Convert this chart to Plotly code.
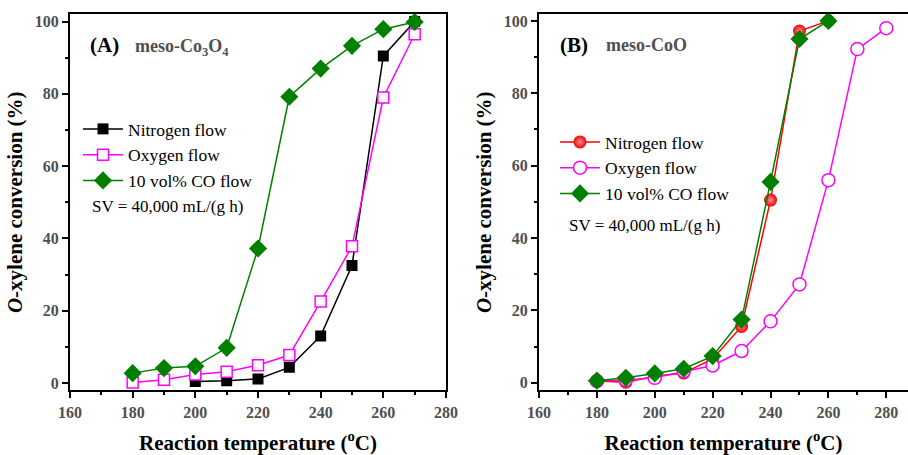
import plotly.graph_objects as go

# ---- data ----
temps_a_n2 = [200, 210, 220, 230, 240, 250, 260, 270]
conv_a_n2 = [0.4, 0.6, 1.1, 4.3, 13.0, 32.5, 90.5, 100.0]
temps_a_o2 = [180, 190, 200, 210, 220, 230, 240, 250, 260, 270]
conv_a_o2 = [0.1, 0.9, 2.3, 3.1, 4.9, 7.7, 22.5, 37.8, 79.0, 96.5]
temps_a_co = [180, 190, 200, 210, 220, 230, 240, 250, 260, 270]
conv_a_co = [2.7, 4.1, 4.6, 9.7, 37.2, 79.2, 87.0, 93.3, 97.9, 99.9]

temps_b_n2 = [180, 190, 200, 210, 220, 230, 240, 250, 260]
conv_b_n2 = [0.5, 0.2, 1.8, 2.7, 6.6, 15.6, 50.5, 97.2, 100.0]
temps_b_o2 = [180, 190, 200, 210, 220, 230, 240, 250, 260, 270, 280]
conv_b_o2 = [0.5, 0.8, 1.4, 3.2, 4.8, 8.8, 17.0, 27.2, 56.0, 92.2, 98.0]
temps_b_co = [180, 190, 200, 210, 220, 230, 240, 250, 260]
conv_b_co = [0.6, 1.4, 2.6, 3.9, 7.4, 17.5, 55.5, 95.0, 100.0]

names = ["Nitrogen flow", "Oxygen flow", "10 vol% CO flow"]
xtick_vals = [160, 180, 200, 220, 240, 260, 280]
ytick_vals = [0, 20, 40, 60, 80, 100]

SERIF = "Liberation Serif"
GREEN = "#008000"
MAG = "#ff00ff"

fig = go.Figure()

# Panel A
fig.add_trace(go.Scatter(x=temps_a_n2, y=conv_a_n2, mode="lines+markers", name=names[0],
                         line=dict(color="black", width=1.5),
                         marker=dict(symbol="square", size=11, color="black"),
                         xaxis="x", yaxis="y", legend="legend"))
fig.add_trace(go.Scatter(x=temps_a_o2, y=conv_a_o2, mode="lines+markers", name=names[1],
                         line=dict(color=MAG, width=1.5),
                         marker=dict(symbol="square", size=11, color="white", line=dict(color=MAG, width=1.5)),
                         xaxis="x", yaxis="y", legend="legend"))
fig.add_trace(go.Scatter(x=temps_a_co, y=conv_a_co, mode="lines+markers", name=names[2],
                         line=dict(color=GREEN, width=1.5),
                         marker=dict(symbol="diamond", size=14, color=GREEN),
                         xaxis="x", yaxis="y", legend="legend"))

# Panel B
fig.add_trace(go.Scatter(x=temps_b_n2, y=conv_b_n2, mode="lines+markers", name=names[0],
                         line=dict(color="red", width=1.5),
                         marker=dict(symbol="circle", size=13, color="#f00000",
                                     line=dict(width=0),
                                     gradient=dict(type="radial", color="#ff9090")),
                         xaxis="x2", yaxis="y2", legend="legend2"))
fig.add_trace(go.Scatter(x=temps_b_o2, y=conv_b_o2, mode="lines+markers", name=names[1],
                         line=dict(color=MAG, width=1.5),
                         marker=dict(symbol="circle", size=13, color="white", line=dict(color=MAG, width=1.5)),
                         xaxis="x2", yaxis="y2", legend="legend2"))
fig.add_trace(go.Scatter(x=temps_b_co, y=conv_b_co, mode="lines+markers", name=names[2],
                         line=dict(color=GREEN, width=1.5),
                         marker=dict(symbol="diamond", size=14, color=GREEN),
                         xaxis="x2", yaxis="y2", legend="legend2"))

tickfont = dict(family=SERIF, size=16, color="#505050", weight="bold")
titlefont = dict(family=SERIF, size=21, color="black", weight="bold")

def xaxis_cfg(domain, rng):
    return dict(domain=domain, range=rng, tickvals=xtick_vals, ticks="outside", ticklen=6,
                tickwidth=1.5, tickcolor="black", showline=True, linecolor="black", linewidth=2,
                mirror=True, showgrid=False, zeroline=False, tickfont=tickfont, automargin=False,
                minor=dict(dtick=10, ticks="outside", ticklen=3, tickwidth=1.5, tickcolor="black"),
                title=dict(text="Reaction temperature (<sup>o</sup>C)", font=titlefont, standoff=18))

def yaxis_cfg(anchor, rng, mirror):
    return dict(domain=[0.1418, 0.9692], range=rng, tickvals=ytick_vals, ticks="outside", ticklen=6,
                tickwidth=1.5, tickcolor="black", showline=True, linecolor="black", linewidth=2,
                mirror=mirror, showgrid=False, zeroline=False, tickfont=tickfont, anchor=anchor,
                automargin=False,
                minor=dict(dtick=10, ticks="outside", ticklen=3, tickwidth=1.5, tickcolor="black"),
                title=dict(text="<i>O</i>-xylene conversion (%)", font=titlefont, standoff=6))

legfont = dict(family=SERIF, size=17.5, color="black")

fig.update_layout(
    width=908, height=455,
    font=dict(family=SERIF),
    margin=dict(l=0, r=0, t=0, b=0, autoexpand=False),
    plot_bgcolor="white", paper_bgcolor="white",
    xaxis=xaxis_cfg([70 / 908, 446 / 908], [160, 280]) | dict(anchor="y"),
    yaxis=yaxis_cfg("x", [-2.1, 102.1], True),
    xaxis2=xaxis_cfg([539 / 908, 1.0], [160, 287.5]) | dict(anchor="y2"),
    yaxis2=yaxis_cfg("x2", [-2.1, 101.9], False),
    legend=dict(x=78 / 908, y=1 - 111 / 455, xanchor="left", yanchor="top", font=legfont,
                bgcolor="rgba(0,0,0,0)", tracegroupgap=0, itemwidth=40),
    legend2=dict(x=555 / 908, y=1 - 124 / 455, xanchor="left", yanchor="top", font=legfont,
                 bgcolor="rgba(0,0,0,0)", tracegroupgap=0, itemwidth=40),
    showlegend=True,
)

ann = [
    dict(x=88 / 908, y=1 - 45 / 455, text="(A)", font=dict(family=SERIF, size=21, color="black", weight="bold")),
    dict(x=133 / 908, y=1 - 48 / 455, text="meso-Co<sub>3</sub>O<sub>4</sub>",
         font=dict(family=SERIF, size=18, color="#505050", weight="bold")),
    dict(x=90 / 908, y=1 - 207 / 455, text="SV = 40,000 mL/(g h)", font=dict(family=SERIF, size=17, color="black")),
    dict(x=558 / 908, y=1 - 45 / 455, text="(B)", font=dict(family=SERIF, size=21, color="black", weight="bold")),
    dict(x=604 / 908, y=1 - 45 / 455, text="meso-CoO",
         font=dict(family=SERIF, size=18, color="#505050", weight="bold")),
    dict(x=567 / 908, y=1 - 225 / 455, text="SV = 40,000 mL/(g h)", font=dict(family=SERIF, size=17, color="black")),
]
for a in ann:
    fig.add_annotation(xref="paper", yref="paper", xanchor="left", yanchor="middle", showarrow=False, **a)

fig.write_html("out.html", config={"displayModeBar": False},
               post_script="document.body.style.margin='0px';")
